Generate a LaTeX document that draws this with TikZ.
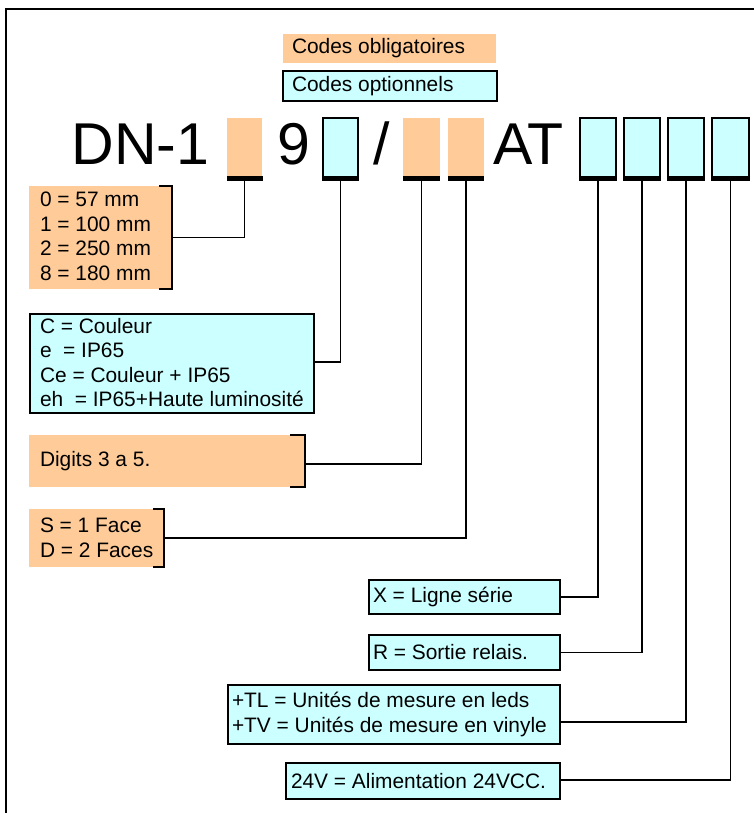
\documentclass[tikz,border=0pt]{standalone}
\usepackage{fontspec}
\setmainfont{Liberation Sans}
\definecolor{oblig}{HTML}{FFCC99}
\definecolor{optio}{HTML}{CCFFFF}
\tikzset{
  txt/.style={font=\fontsize{20.9}{24.5}\selectfont, inner sep=0pt, outer sep=0pt, align=left, anchor=west},
  oblbox/.style={fill=oblig, anchor=north west, inner sep=0pt, outer sep=0pt},
  optbox/.style={fill=optio, draw=black, line width=1.3pt, anchor=north west, inner sep=0pt, outer sep=0pt},
  codeo/.style={oblbox, minimum height=59pt},
  codec/.style={optbox, minimum height=59pt},
  bar/.style={fill=black, anchor=north, inner sep=0pt, outer sep=0pt, minimum height=4.5pt},
  conn/.style={draw=black, line width=1.4pt},
  brk/.style={draw=black, line width=1.4pt},
  big/.style={font=\fontsize{59}{59}\selectfont, anchor=base west, inner sep=0pt, outer sep=0pt},
}
\begin{document}
\begin{tikzpicture}[x=1pt,y=-1pt]
\useasboundingbox (0,0) rectangle (754,813);
% frame
\draw[line width=2pt] (6,813) -- (6,9) -- (754,9);

% legend
\node[oblbox, minimum width=213pt, minimum height=29pt] (leg1) at (283,34) {};
\node[txt] (leg1t) at ([xshift=9pt]leg1.west) {Codes obligatoires};
\node[optbox, minimum width=214pt, minimum height=30pt] (leg2) at (283,71) {};
\node[txt] (leg2t) at ([xshift=9pt]leg2.west) {Codes optionnels};

% big code text
\node[big] (tDN) at (71.5,165) {DN-1};
\node[big] (t9) at (277,165) {9};
\node[big] (tsl) at (373,165) {/};
\node[big] (tAT) at (493,165) {AT};

% code boxes
\node[codeo, minimum width=35pt] (k1) at (227,118) {};
\node[codec, minimum width=35pt] (k2) at (323,118) {};
\node[codeo, minimum width=37pt] (k3) at (403,118) {};
\node[codeo, minimum width=36pt] (k4) at (448,118) {};
\node[codec, minimum width=36pt] (k5) at (580,118) {};
\node[codec, minimum width=36pt] (k6) at (624,118) {};
\node[codec, minimum width=36pt] (k7) at (668,118) {};
\node[codec, minimum width=37pt] (k8) at (712,118) {};

\foreach \k/\w in {1/36,2/37,3/37,4/36,5/38,6/38,7/38,8/39}{
  \node[bar, minimum width=\w pt] (b\k) at ([yshift=0.5pt]k\k.south) {};
}

% description boxes
\node[oblbox, minimum width=143pt, minimum height=103pt] (d1) at (29,186) {};
\draw[brk] ([xshift=-13pt]d1.north east) -- (d1.north east) -- (d1.south east) -- ([xshift=-13pt]d1.south east);
\node[txt] (d1t) at ([xshift=11pt,yshift=1pt]d1.west) {0 = 57 mm\\1 = 100 mm\\2 = 250 mm\\8 = 180 mm};

\node[optbox, minimum width=284pt, minimum height=99pt] (d2) at (30,314) {};
\node[txt] (d2t) at ([xshift=10pt,yshift=1pt]d2.west) {C = Couleur\\e\ \ = IP65\\Ce = Couleur + IP65\\eh\ \ = IP65+Haute luminosité};

\node[oblbox, minimum width=276pt, minimum height=52pt] (d3) at (29,435) {};
\draw[brk] ([xshift=-15pt]d3.north east) -- (d3.north east) -- (d3.south east) -- ([xshift=-15pt]d3.south east);
\node[txt] (d3t) at ([xshift=11pt]d3.west) {Digits 3 a 5.};

\node[oblbox, minimum width=135pt, minimum height=58pt] (d4) at (29,509) {};
\draw[brk] ([xshift=-11pt]d4.north east) -- (d4.north east) -- (d4.south east) -- ([xshift=-11pt]d4.south east);
\node[txt] (d4t) at ([xshift=11pt]d4.west) {S = 1 Face\\D = 2 Faces};

\node[optbox, minimum width=191pt, minimum height=34pt] (d5) at (369,580) {};
\node[txt] (d5t) at ([xshift=4pt]d5.west) {X = Ligne série};

\node[optbox, minimum width=191pt, minimum height=35pt] (d6) at (369,635) {};
\node[txt] (d6t) at ([xshift=4pt]d6.west) {R = Sortie relais.};

\node[optbox, minimum width=332pt, minimum height=59pt] (d7) at (228,685) {};
\node[txt] (d7t) at ([xshift=4pt]d7.west) {+TL = Unités de mesure en leds\\+TV = Unités de mesure en vinyle};

\node[optbox, minimum width=274pt, minimum height=36pt] (d8) at (286,763) {};
\node[txt] (d8t) at ([xshift=5pt]d8.west) {24V = Alimentation 24VCC.};

% connectors
\draw[conn] (d1.east) -| (b1.south);
\draw[conn] ([yshift=1.5pt]d2.east) -| (b2.south);
\draw[conn] ([yshift=-3pt]d3.east) -| (b3.south);
\draw[conn] (d4.east) -| (b4.south);
\draw[conn] (d5.east) -| (b5.south);
\draw[conn] (d6.east) -| (b6.south);
\draw[conn] ([yshift=-7.5pt]d7.east) -| (b7.south);
\draw[conn] ([yshift=1pt]d8.east) -| (b8.south);
\end{tikzpicture}
\end{document}
